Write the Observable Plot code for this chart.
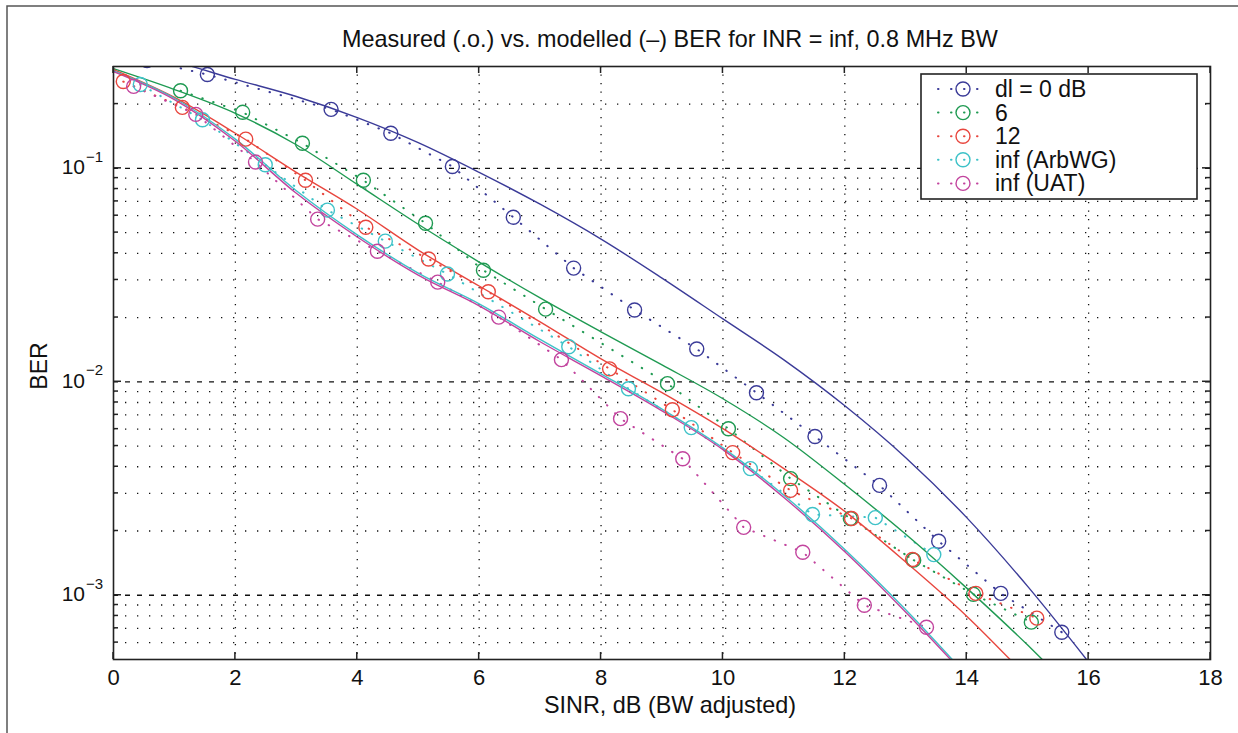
<!DOCTYPE html>
<html><head><meta charset="utf-8">
<script src="https://cdn.jsdelivr.net/npm/d3@7"></script>
<script src="https://cdn.jsdelivr.net/npm/@observablehq/plot@0.6"></script>
<style>
body{margin:0;background:#fff}
svg{font-family:"Liberation Sans",Arial,sans-serif}
</style>
</head><body><div id="chart"></div>
<script>
// ---------- data ----------
const seriesNames = ["dl = 0 dB", "6", "12", "inf (ArbWG)", "inf (UAT)"];
const seriesColors = ["#3b3b98", "#1f9a52", "#e8463e", "#3ec2c8", "#c2449e"];

const titleText = "Measured (.o.) vs. modelled (–) BER for INR = inf, 0.8 MHz BW";
const xLabelText = "SINR, dB (BW adjusted)";
const yLabelText = "BER";
const xTicks = [0, 2, 4, 6, 8, 10, 12, 14, 16, 18];
const yDecades = [1e-3, 1e-2, 1e-1];
const yDecadeExp = ["\u22123", "\u22122", "\u22121"];
const yMinor = [6e-4, 7e-4, 8e-4, 9e-4, 2e-3, 3e-3, 4e-3, 5e-3, 6e-3, 7e-3, 8e-3, 9e-3,
                2e-2, 3e-2, 4e-2, 5e-2, 6e-2, 7e-2, 8e-2, 9e-2, 0.2];

// measured (circles, dotted)
const measX0 = [0.55, 1.54, 3.57, 4.55, 5.56, 6.56, 7.55, 8.55, 9.57, 10.55, 11.51, 12.57, 13.54, 14.56, 15.56];
const measY0 = [0.32, 0.275, 0.189, 0.146, 0.102, 0.059, 0.0341, 0.0217, 0.01425, 0.00889, 0.00554, 0.00327, 0.00179, 0.00102, 0.000671];
const measX6 = [1.1, 2.12, 3.1, 4.1, 5.12, 6.07, 7.09, 9.09, 10.09, 11.11, 12.09, 13.13, 14.11, 15.06];
const measY6 = [0.231, 0.183, 0.131, 0.0879, 0.0553, 0.0333, 0.0219, 0.0098, 0.00603, 0.00352, 0.00229, 0.00146, 0.00101, 0.000748];
const measX12 = [0.16, 1.13, 2.17, 3.15, 4.14, 5.17, 6.15, 8.14, 9.17, 10.16, 11.11, 12.11, 13.11, 14.15, 15.15];
const measY12 = [0.255, 0.193, 0.137, 0.0879, 0.053, 0.0376, 0.0264, 0.0115, 0.0074, 0.00466, 0.0031, 0.00229, 0.00147, 0.00102, 0.000781];
const measXArb = [0.44, 1.46, 2.49, 3.51, 4.46, 5.48, 7.47, 8.45, 9.48, 10.45, 11.47, 12.5, 13.46];
const measYArb = [0.247, 0.169, 0.104, 0.0637, 0.0456, 0.032, 0.0146, 0.00928, 0.0061, 0.00392, 0.00239, 0.00231, 0.00155];
const measXUat = [0.33, 1.35, 2.33, 3.35, 4.33, 5.32, 6.32, 7.35, 8.32, 9.34, 10.34, 11.31, 12.32, 13.34];
const measYUat = [0.242, 0.179, 0.107, 0.0578, 0.0409, 0.0293, 0.0201, 0.0127, 0.00672, 0.00436, 0.00208, 0.00159, 0.000898, 0.000708];

// modelled (solid)
const modX0 = [0, 1, 2, 3, 4, 5, 6, 7, 8, 9, 10, 11, 12, 13, 14, 15, 16];
const modY0 = [0.36, 0.316, 0.261, 0.217, 0.173, 0.132, 0.0958, 0.0679, 0.0466, 0.0306, 0.0197, 0.01267, 0.00772, 0.00441, 0.00231, 0.0011, 0.000486];
const modX6 = [0, 1, 2, 3, 4, 5, 6, 7, 8, 9, 10, 11, 12, 13, 14, 15, 15.3];
const modY6 = [0.293, 0.234, 0.181, 0.129, 0.0841, 0.0547, 0.0364, 0.0247, 0.01713, 0.012, 0.00833, 0.00547, 0.0033, 0.00193, 0.00108, 0.000584, 0.000481];
const modX12 = [0, 1, 2, 3, 4, 5, 6, 7, 8, 9, 10, 11, 12, 13, 14, 14.8];
const modY12 = [0.29, 0.215, 0.146, 0.0958, 0.0643, 0.0414, 0.0281, 0.0191, 0.0128, 0.0089, 0.00603, 0.00392, 0.00247, 0.00143, 0.000798, 0.000471];
const modXArb = [0, 1, 2, 3, 4, 5, 6, 7, 8, 9, 10, 11, 12, 13, 13.85];
const modYArb = [0.286, 0.213, 0.137, 0.0785, 0.0488, 0.0323, 0.0232, 0.0158, 0.0109, 0.00745, 0.0049, 0.00294, 0.00164, 0.000855, 0.00047];
const modXUat = [0, 1, 2, 3, 4, 5, 6, 7, 8, 9, 10, 11, 12, 13, 13.85];
const modYUat = [0.284, 0.21, 0.134, 0.0764, 0.0477, 0.0316, 0.0227, 0.0154, 0.01067, 0.00731, 0.00481, 0.00287, 0.0016, 0.000833, 0.000461];

// ---------- tables ----------
const measSets = [[measX0, measY0], [measX6, measY6], [measX12, measY12], [measXArb, measYArb], [measXUat, measYUat]];
const modSets = [[modX0, modY0], [modX6, modY6], [modX12, modY12], [modXArb, modYArb], [modXUat, modYUat]];
const toRows = sets => sets.flatMap(([xs, ys], k) => xs.map((x, i) => ({series: seriesNames[k], x, y: ys[i]})));
const measured = toRows(measSets);
const modelled = toRows(modSets);

const W = 1238, H = 733;
const mL = 113, mR = 28, mT = 66, mB = 74;
const FONT = "Liberation Sans, Arial, sans-serif";

const chart = Plot.plot({
  width: W, height: H,
  marginLeft: mL, marginRight: mR, marginTop: mT, marginBottom: mB,
  style: {fontFamily: FONT, fontSize: "22px", color: "#111", background: "#fff"},
  x: {domain: [0, 18], axis: null},
  y: {type: "log", domain: [5e-4, 0.3], axis: null},
  color: {domain: seriesNames, range: seriesColors},
  marks: [
    Plot.ruleY(yMinor, {stroke: "#111", strokeWidth: 1.3, strokeDasharray: "1.3 10.7"}),
    Plot.ruleY(yDecades, {stroke: "#111", strokeWidth: 1.3, strokeDasharray: "5 7"}),
    Plot.ruleX(xTicks.slice(1, -1), {stroke: "#111", strokeWidth: 1.3, strokeDasharray: "1.3 7.2"}),
    Plot.line(measured, {x: "x", y: "y", z: "series", stroke: "series", strokeWidth: 2, strokeDasharray: "0.5 11", strokeLinecap: "round", clip: true}),
    Plot.line(modelled, {x: "x", y: "y", z: "series", stroke: "series", strokeWidth: 1.4, curve: "monotone-x", clip: true}),
    Plot.dot(measured, {x: "x", y: "y", stroke: "series", r: 7, strokeWidth: 1.4, clip: true}),
    Plot.frame({stroke: "#222", strokeWidth: 1.6}),
    Plot.axisX(xTicks, {tickSize: 0, tickPadding: 9.5, fontSize: 22, label: null, fill: "#111"})
  ]
});
document.getElementById("chart").appendChild(chart);

// ---------- decorations via the plot's scales ----------
const svg = d3.select(chart);
const sx = chart.scale("x"), sy = chart.scale("y");
const x0 = mL, x1 = W - mR, y0 = mT, y1 = H - mB;
const g = svg.append("g").attr("stroke", "#222").attr("stroke-width", 1.5);
xTicks.forEach(t => {
  const px = sx.apply(t);
  g.append("line").attr("x1", px).attr("x2", px).attr("y1", y1).attr("y2", y1 - 7);
  g.append("line").attr("x1", px).attr("x2", px).attr("y1", y0).attr("y2", y0 + 7);
});
yDecades.concat(yMinor).forEach(t => {
  const py = sy.apply(t);
  const len = yDecades.includes(t) ? 8 : 5;
  g.append("line").attr("x1", x0).attr("x2", x0 + len).attr("y1", py).attr("y2", py);
  g.append("line").attr("x1", x1).attr("x2", x1 - len).attr("y1", py).attr("y2", py);
});
const txt = (x, y, s, size, anchor) => svg.append("text").attr("x", x).attr("y", y)
  .attr("text-anchor", anchor).attr("font-size", size).attr("font-family", FONT).attr("fill", "#111").text(s);
// y tick labels with superscripts
yDecades.forEach((t, i) => {
  const py = sy.apply(t);
  txt(85, py + 6.5, "10", 21, "end");
  txt(86, py - 6, yDecadeExp[i], 15, "start");
});
// title and axis labels
txt(670, 47, titleText, 23.4, "middle");
txt(670, 713, xLabelText, 23.4, "middle");
svg.append("text").attr("transform", "translate(47,366) rotate(-90)").attr("text-anchor", "middle")
  .attr("font-size", 23).attr("font-family", FONT).attr("fill", "#111").text(yLabelText);
// outer figure frame (top and left edges)
svg.append("path").attr("d", `M7,${H} L7,6 L${W},6`).attr("fill", "none").attr("stroke", "#555").attr("stroke-width", 1.5);
// legend
const lg = svg.append("g");
lg.append("rect").attr("x", 921).attr("y", 74).attr("width", 276).attr("height", 125)
  .attr("fill", "#fff").attr("stroke", "#222").attr("stroke-width", 1.6);
seriesNames.forEach((name, i) => {
  const cy = 89 + i * 23.6;
  const c = seriesColors[i];
  lg.append("line").attr("x1", 938).attr("x2", 980).attr("y1", cy).attr("y2", cy)
    .attr("stroke", c).attr("stroke-width", 2).attr("stroke-dasharray", "0.5 12.5").attr("stroke-linecap", "round");
  lg.append("circle").attr("cx", 963).attr("cy", cy).attr("r", 7).attr("fill", "none").attr("stroke", c).attr("stroke-width", 1.4);
  lg.append("text").attr("x", 995).attr("y", cy + 8).attr("text-anchor", "start").attr("font-size", 23)
    .attr("font-family", FONT).attr("fill", "#111").text(name);
});
</script>
</body></html>
